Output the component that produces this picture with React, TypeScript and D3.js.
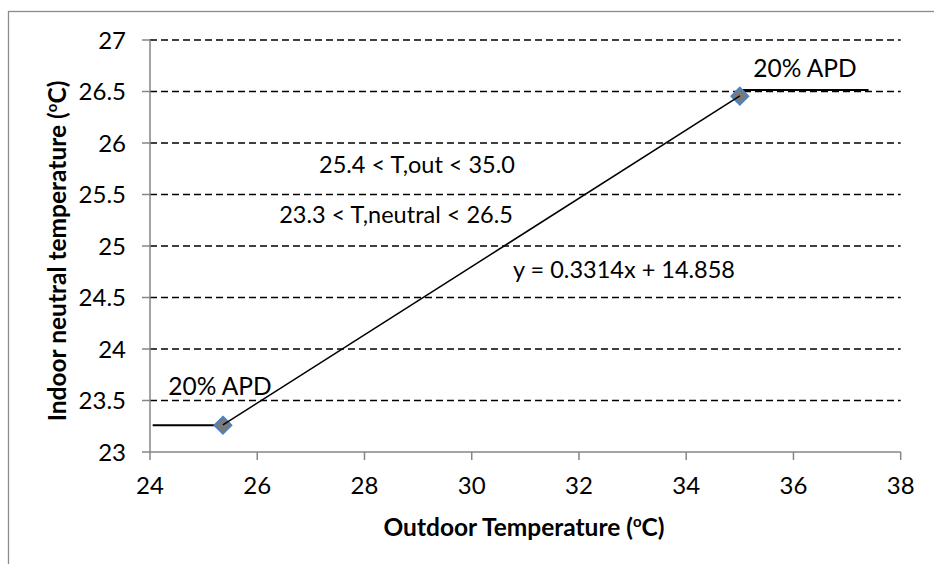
import React from "react";
import * as d3 from "d3";

// Fitted range endpoints (outdoor temp, neutral temp)
const pointX = [25.36, 35.0];
const pointY = [23.26, 26.455];

// Trendline: y = 0.3314x + 14.858
const slope = 0.3314;
const intercept = 14.858;

// Horizontal limit segments at the 20% APD bounds
const lowSegX = [24.05, 25.36];
const lowSegY = 23.26;
const highSegX = [35.05, 37.4];
const highSegY = 26.515;

const xTicks = [24, 26, 28, 30, 32, 34, 36, 38];
const yTicks = [23, 23.5, 24, 24.5, 25, 25.5, 26, 26.5, 27];

const W = 934;
const H = 564;
const FONT = "Lato, 'Open Sans', sans-serif";

export default function App() {
  const x = d3.scaleLinear().domain([24, 38]).range([150, 900.7]);
  const y = d3.scaleLinear().domain([23, 27]).range([452, 40]);

  const trend = d3
    .line<number>()
    .x((d) => x(d))
    .y((d) => y(slope * d + intercept));

  const diamond = d3.symbol().type(d3.symbolDiamond2 ?? d3.symbolDiamond).size(180)();
  const fmtY = (v: number) => (Number.isInteger(v) ? String(v) : v.toFixed(1));

  return (
    <svg
      width={W}
      height={H}
      style={{ position: "absolute", left: 0, top: 0, background: "#fff" }}
      fontFamily={FONT}
    >
      {/* chart frame */}
      <rect x={8.5} y={11.5} width={1000} height={700} fill="none" stroke="#8c8c8c" strokeWidth={1.3} />

      {/* dashed gridlines */}
      {yTicks.slice(1).map((t) => (
        <line
          key={"g" + t}
          x1={x(24)}
          x2={x(38)}
          y1={y(t)}
          y2={y(t)}
          stroke="#000"
          strokeWidth={1.3}
          strokeDasharray="7,4"
        />
      ))}

      {/* y axis */}
      <line x1={x(24)} x2={x(24)} y1={y(27)} y2={y(23)} stroke="#868686" strokeWidth={1.5} />
      {yTicks.map((t) => (
        <g key={"y" + t}>
          <line x1={x(24) - 8} x2={x(24)} y1={y(t)} y2={y(t)} stroke="#868686" strokeWidth={1.5} />
          <text x={126} y={y(t)} dy="0.36em" textAnchor="end" fontSize={24} fill="#000">
            {fmtY(t)}
          </text>
        </g>
      ))}

      {/* x axis */}
      <line x1={x(24)} x2={x(38)} y1={y(23)} y2={y(23)} stroke="#868686" strokeWidth={1.5} />
      {xTicks.map((t) => (
        <g key={"x" + t}>
          <line x1={x(t)} x2={x(t)} y1={y(23)} y2={y(23) + 8} stroke="#868686" strokeWidth={1.5} />
          <text x={x(t)} y={485} dy="0.36em" textAnchor="middle" fontSize={24} fill="#000">
            {t}
          </text>
        </g>
      ))}

      {/* axis titles */}
      <text x={524} y={527} dy="0.36em" textAnchor="middle" fontSize={24.5} fontWeight="bold" fill="#000">
        Outdoor Temperature (<tspan fontSize={15} dy="-0.6em">o</tspan>
        <tspan dy="0.38em">C)</tspan>
      </text>
      <text
        transform="translate(57,251) rotate(-90)"
        dy="0.36em"
        textAnchor="middle"
        fontSize={24.5}
        fontWeight="bold"
        fill="#000"
      >
        Indoor neutral temperature (<tspan fontSize={15} dy="-0.6em">o</tspan>
        <tspan dy="0.38em">C)</tspan>
      </text>

      {/* limit segments */}
      <line x1={x(lowSegX[0])} x2={x(lowSegX[1])} y1={y(lowSegY)} y2={y(lowSegY)} stroke="#000" strokeWidth={2} />
      <line x1={x(highSegX[0])} x2={x(highSegX[1])} y1={y(highSegY)} y2={y(highSegY)} stroke="#000" strokeWidth={2} />

      {/* data points */}
      {pointX.map((px, i) => (
        <path
          key={"p" + i}
          d={diamond ?? ""}
          transform={`translate(${x(px)},${y(pointY[i])})`}
          fill="#7a7a7a"
          stroke="#4f81bd"
          strokeWidth={2}
        />
      ))}

      {/* trendline */}
      <path d={trend(pointX) ?? ""} fill="none" stroke="#000" strokeWidth={1.5} />

      {/* annotations */}
      <text x={805} y={68} dy="0.36em" textAnchor="middle" fontSize={24.5} fill="#000">
        20% APD
      </text>
      <text x={220} y={386} dy="0.36em" textAnchor="middle" fontSize={24.5} fill="#000">
        20% APD
      </text>
      <text x={417} y={165} dy="0.36em" textAnchor="middle" fontSize={23.5} fill="#000">
        25.4 &lt; T,out &lt; 35.0
      </text>
      <text x={396} y={215} dy="0.36em" textAnchor="middle" fontSize={23.5} fill="#000">
        23.3 &lt; T,neutral &lt; 26.5
      </text>
      <text x={624} y={270} dy="0.36em" textAnchor="middle" fontSize={23.5} fill="#000">
        y = 0.3314x + 14.858
      </text>
    </svg>
  );
}
